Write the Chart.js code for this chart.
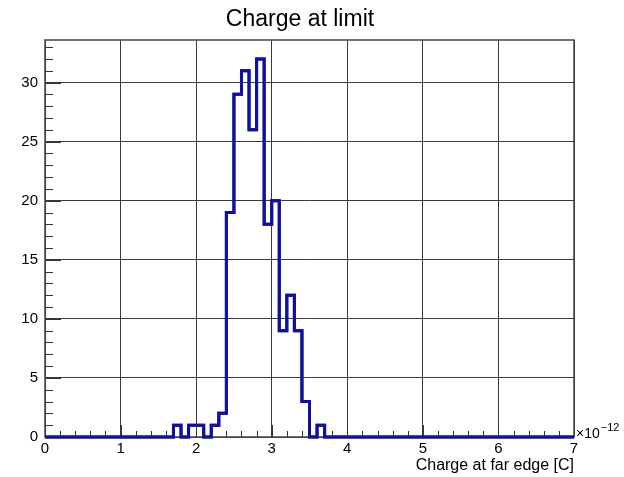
<!DOCTYPE html>
<html>
<head>
<meta charset="utf-8">
<script src="https://cdn.jsdelivr.net/npm/chart.js@4.4.1/dist/chart.umd.min.js"></script>
<style>
  html, body { margin: 0; padding: 0; background: #ffffff; }
  #wrap { width: 624px; height: 477px; }
</style>
</head>
<body>
<div id="wrap"><canvas id="c" width="624" height="477"></canvas></div>
<script>
// Histogram of charge at the far edge: 70 bins of 0.1 (x 1e-12 C) from 0 to 7
const binStart = 0;
const binWidth = 0.1;
const counts = [
  0, 0, 0, 0, 0, 0, 0, 0, 0, 0,   // 0.0 - 1.0
  0, 0, 0, 0, 0, 0, 0, 1, 0, 1,   // 1.0 - 2.0
  1, 0, 1, 2, 19, 29, 31, 26, 32, 18, // 2.0 - 3.0
  20, 9, 12, 9, 3, 0, 1, 0, 0, 0, // 3.0 - 4.0
  0, 0, 0, 0, 0, 0, 0, 0, 0, 0,   // 4.0 - 5.0
  0, 0, 0, 0, 0, 0, 0, 0, 0, 0,   // 5.0 - 6.0
  0, 0, 0, 0, 0, 0, 0, 0, 0, 0    // 6.0 - 7.0
];
const xTickLabels = ['0', '1', '2', '3', '4', '5', '6', '7'];
const yTickLabels = ['0', '5', '10', '15', '20', '25', '30'];
const titleText = 'Charge at limit';
const xTitleText = 'Charge at far edge [C]';
const xExponent = '\u221212';

// Step outline points: each bin's lower edge carries its count, last edge closes the final bin
const stepPoints = counts.map((v, i) => ({ x: +(binStart + i * binWidth).toFixed(4), y: v }));
stepPoints.push({ x: +(binStart + counts.length * binWidth).toFixed(4), y: counts[counts.length - 1] });

const yMax = Math.max(...counts) * 1.05;
const FONT = '"Liberation Sans", Arial, Helvetica, sans-serif';

// Frame, inward minor ticks, title and exponent label
const rootStyle = {
  id: 'rootStyle',
  afterDraw(chart) {
    const { ctx, chartArea: a, scales: { x, y } } = chart;
    ctx.save();
    // inward tick marks
    ctx.strokeStyle = '#333';
    ctx.lineWidth = 1;
    ctx.beginPath();
    for (let v = 0; v <= 7.0001; v += 0.2) {
      const px = Math.round(x.getPixelForValue(v)) + 0.5;
      const major = Math.abs(v - Math.round(v)) < 1e-6;
      ctx.moveTo(px, a.bottom);
      ctx.lineTo(px, a.bottom - (major ? 12 : 6));
    }
    for (let v = 0; v <= yMax; v += 1) {
      const py = Math.round(y.getPixelForValue(v)) + 0.5;
      const major = v % 5 === 0;
      ctx.moveTo(a.left, py);
      ctx.lineTo(a.left + (major ? 16 : 8), py);
    }
    ctx.stroke();
    // frame
    ctx.strokeStyle = '#444';
    ctx.lineWidth = 1.5;
    ctx.strokeRect(a.left, a.top, a.right - a.left, a.bottom - a.top);
    // redraw the histogram outline over the frame
    chart.getDatasetMeta(0).dataset.draw(ctx, a);
    // title
    ctx.fillStyle = '#000';
    ctx.font = '23px ' + FONT;
    ctx.textAlign = 'center';
    ctx.textBaseline = 'alphabetic';
    ctx.fillText(titleText, 300, 26);
    // exponent label
    ctx.textAlign = 'left';
    ctx.font = '14px ' + FONT;
    ctx.fillText('\u00d710', a.right + 2, a.bottom + 1);
    const w = ctx.measureText('\u00d710').width;
    ctx.font = '11px ' + FONT;
    ctx.fillText(xExponent, a.right + 2 + w + 1, a.bottom - 6);
    ctx.restore();
  }
};

new Chart(document.getElementById('c'), {
  type: 'line',
  data: {
    datasets: [{
      data: stepPoints,
      stepped: true,
      borderColor: '#10109c',
      borderWidth: 3,
      pointRadius: 0,
      fill: false,
      clip: false
    }]
  },
  options: {
    responsive: false,
    animation: false,
    events: [],
    layout: { padding: { top: 40, right: 50, left: 0, bottom: 0 } },
    plugins: { legend: { display: false }, title: { display: false }, tooltip: { enabled: false } },
    scales: {
      x: {
        type: 'linear',
        min: 0,
        max: 7,
        afterFit(s) { s.height = 40; },
        afterBuildTicks(s) { s.ticks = xTickLabels.map(t => ({ value: +t })); },
        ticks: {
          stepSize: 1,
          padding: 3,
          maxRotation: 0,
          autoSkip: false,
          color: '#000',
          font: { family: FONT, size: 15 },
          callback: (v) => xTickLabels.includes(String(v)) ? String(v) : ''
        },
        grid: { color: '#3a3a3a', lineWidth: 1, drawTicks: false },
        border: { display: false },
        title: {
          display: true,
          text: xTitleText,
          align: 'end',
          color: '#000',
          font: { family: FONT, size: 16 },
          padding: { top: 0, bottom: 2 }
        }
      },
      y: {
        type: 'linear',
        min: 0,
        max: yMax,
        afterFit(s) { s.width = 45; },
        afterBuildTicks(s) { s.ticks = yTickLabels.map(t => ({ value: +t })); },
        ticks: {
          padding: 7,
          color: '#000',
          font: { family: FONT, size: 15 },
          callback: (v) => String(v)
        },
        grid: { color: '#3a3a3a', lineWidth: 1, drawTicks: false },
        border: { display: false }
      }
    }
  },
  plugins: [rootStyle]
});
</script>
</body>
</html>
